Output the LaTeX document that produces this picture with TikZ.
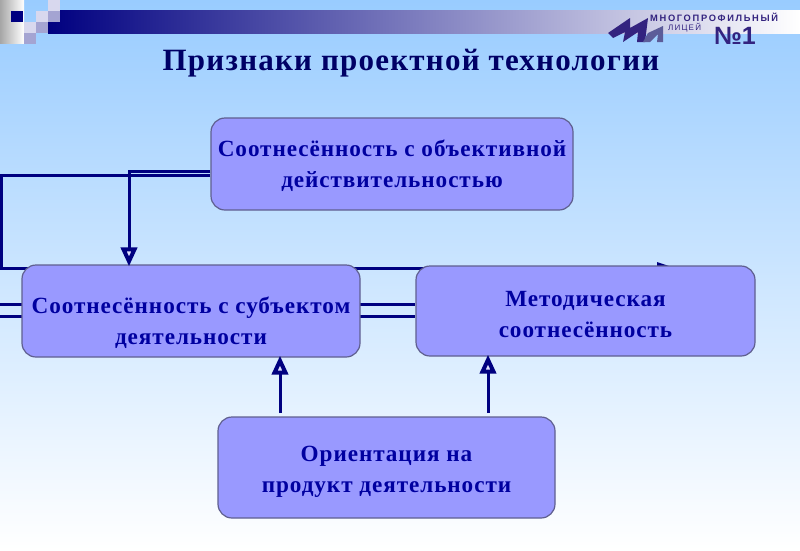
\documentclass[tikz,border=0pt]{standalone}
\usepackage{fontspec}
\setmainfont{Liberation Serif}
\setsansfont{Liberation Sans}
\usepackage{xcolor}
\usetikzlibrary{arrows.meta, positioning, backgrounds}
\definecolor{skytop}{HTML}{99CCFF}
\definecolor{boxfill}{HTML}{9999FF}
\definecolor{boxedge}{HTML}{5F5F8F}
\definecolor{navyline}{HTML}{000080}
\definecolor{boxtext}{HTML}{0000A0}
\definecolor{titletext}{HTML}{000066}
\definecolor{logodark}{HTML}{33237F}
\definecolor{tilepale}{HTML}{D8D8EE}
\definecolor{tilemid}{HTML}{A4A4D2}
\pgfdeclarelayer{sky}
\pgfsetlayers{sky,background,main}
\begin{document}
\begin{tikzpicture}[
  x=1pt, y=-1pt,
  fact/.style={rectangle, rounded corners=14pt, draw=boxedge, line width=1.2pt,
               fill=boxfill, text=boxtext, align=center, inner sep=0pt,
               font=\fontsize{23.2}{31}\selectfont\bfseries\addfontfeature{LetterSpace=4}},
  link/.style={navyline, line width=3pt},
  ar/.style={link, shorten >=-2pt, -{Triangle[open, fill=boxfill!30!white, length=19pt, width=16pt, line width=4pt]}},
  tile/.style={inner sep=0pt, minimum width=12pt, minimum height=11pt}]
\useasboundingbox (0,0) rectangle (800,550);
\begin{pgfonlayer}{sky}
\fill[top color=skytop, bottom color=white] (0,0) rectangle (800,550);
\fill[left color=navyline, right color=white] (48,10) rectangle (800,33);
\fill[left color=black!35, right color=white] (0,0) rectangle (24,43);
\end{pgfonlayer}
% squares at the corner
\node[tile, fill=navyline] (t1) at (17,16.5) {};
\node[tile, fill=tilepale] (t2) at (42,16.5) {};
\node[tile, fill=tilepale] (t3) at (54,5.5) {};
\node[tile, fill=tilemid] (t4) at (54,16.5) {};
\node[tile, fill=tilepale] (t5) at (30,27.5) {};
\node[tile, fill=tilemid] (t6) at (42,27.5) {};
\node[tile, fill=tilemid] (t7) at (30,38) {};
% logo
\fill[logodark] (608,33) -- (630,18) -- (630,28) -- (648,18) -- (645,42) -- (637,42) -- (638,32) -- (623,42) -- (625,32) -- (613,38) -- cycle;
\fill[black!40!boxfill] (643,42) -- (648,33) -- (663,26) -- (663,42) -- (657,42) -- (658,34) -- (650,42) -- cycle;
\node[font=\fontsize{9.3}{9.3}\sffamily\bfseries\addfontfeature{LetterSpace=18}, text=logodark, anchor=west, inner sep=0pt] (school) at (650,17.5) {МНОГОПРОФИЛЬНЫЙ};
\node[font=\fontsize{8}{8}\sffamily\addfontfeature{LetterSpace=15}, text=logodark, anchor=west, inner sep=0pt] (lyceum) at (668,27.5) {ЛИЦЕЙ};
\node[font=\fontsize{25}{25}\sffamily\bfseries, text=logodark, anchor=center, inner sep=0pt] (number) at (735,36) {№1};
% title
\node[font=\fontsize{31}{34}\selectfont\bfseries\addfontfeature{LetterSpace=4}, text=titletext, inner sep=0pt] (title) at (411,63) {Признаки проектной технологии};
% boxes
\node[fact, minimum width=362pt, minimum height=92pt] (real) at (392,164) {\rule{0pt}{20pt}Соотнесённость с объективной\\действительностью};
\node[fact, minimum width=338pt, minimum height=92pt] (subject) at (191,311) {\rule{0pt}{41pt}Соотнесённость с субъектом\\деятельности};
\node[fact, minimum width=339pt, minimum height=90pt] (method) at (585.5,311) {\rule{0pt}{22pt}Методическая\\соотнесённость};
\node[fact, minimum width=337pt, minimum height=101pt] (product) at (386.5,467.5) {\rule{0pt}{23pt}Ориентация на\\продукт деятельности};
% connector ends
\coordinate (realA) at (real.west |- 0,171);
\coordinate (realB) at (real.west |- 0,175);
\coordinate (leftA) at (1,175);
\coordinate (leftB) at (1,268);
\coordinate (leftC) at (0,304);
\coordinate (leftD) at (0,316);
\coordinate (methodTip) at (672,268);
\coordinate (subjectIn) at (129,0 |- subject.north);
\coordinate (subjectUp) at (280,0 |- subject.south);
\coordinate (methodUp) at (488,0 |- method.south);
\coordinate (productA) at (280,413);
\coordinate (productB) at (488,413);
\begin{pgfonlayer}{background}
\draw[link] (realB) -- (leftA) -- (leftB) -- (methodTip);
\fill[navyline] (657,262) -- (672,267) -- (657,272) -- cycle;
\draw[link] (leftC) -- (leftC -| method.west);
\draw[link] (leftD) -- (leftD -| method.west);
\end{pgfonlayer}
\draw[ar] (realA) -- (realA -| subjectIn) -- (subjectIn);
\draw[ar] (productA) -- (subjectUp);
\draw[ar] (productB) -- (methodUp);
\end{tikzpicture}
\end{document}
